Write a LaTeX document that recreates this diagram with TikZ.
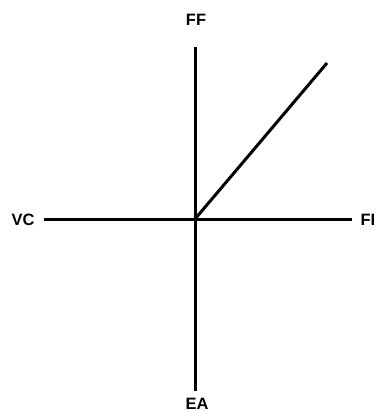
\documentclass[tikz,border=0pt]{standalone}
\usepackage{fontspec}
\setmainfont{Liberation Sans}
\usetikzlibrary{positioning}

\begin{document}
\begin{tikzpicture}[
    x=1bp, y=-1bp,
    sumbu/.style={line width=3bp, black},
    label/.style={font=\fontsize{16.5}{19}\selectfont\bfseries, inner sep=0pt}
  ]
    \useasboundingbox (0,0) rectangle (376,412);
    % Titik pusat dan ujung-ujung sumbu
    \coordinate (pusat) at (195,219);
    \coordinate (atas)  at (195,47);
    \coordinate (bawah) at (195,391);
    \coordinate (kiri)  at (44,219);
    \coordinate (kanan) at (352,219);
    \coordinate (ujung) at (327,63);
    \node[label] (FF) at (196,20)  {FF};
    \node[label] (VC) at (23,220)  {VC};
    \node[label] (FI) at (368,220) {FI};
    \node[label] (EA) at (197,404) {EA};
    \draw[sumbu] (atas) -- (bawah);
    \draw[sumbu] (kiri) -- (kanan);
    \draw[sumbu] (pusat) -- (ujung);
\end{tikzpicture}
\end{document}
